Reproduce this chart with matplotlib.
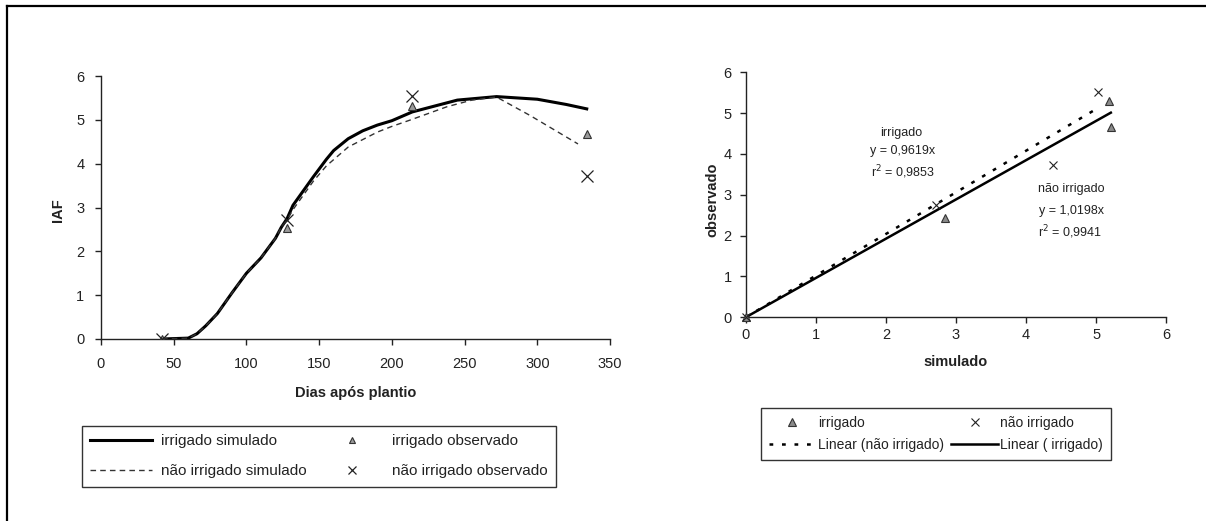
import matplotlib
matplotlib.use("Agg")
import matplotlib.pyplot as plt
from matplotlib.lines import Line2D
import numpy as np

plt.rcParams['font.family'] = ['Liberation Sans', 'DejaVu Sans']

# ---------------- data: left chart (IAF x dias) ----------------
dias_irr_sim = [42, 60, 66, 72, 80, 90, 100, 110, 120, 124, 128, 132, 146, 155, 160,
                170, 180, 190, 200, 214, 245, 272, 300, 320, 334]
iaf_irr_sim = [0.0, 0.02, 0.12, 0.3, 0.58, 1.05, 1.5, 1.85, 2.3, 2.55, 2.75, 3.05,
               3.7, 4.1, 4.3, 4.57, 4.75, 4.88, 4.98, 5.18, 5.45, 5.53, 5.47, 5.35, 5.25]

dias_nao_sim = [42, 60, 66, 72, 80, 90, 100, 110, 120, 124, 128, 132, 146, 155, 162,
                170, 180, 190, 200, 213, 238, 255, 272, 295, 328]
iaf_nao_sim = [0.0, 0.02, 0.12, 0.3, 0.58, 1.05, 1.5, 1.85, 2.3, 2.55, 2.72, 2.95,
               3.6, 3.95, 4.15, 4.38, 4.55, 4.72, 4.85, 5.0, 5.3, 5.45, 5.52, 5.1, 4.45]

dias_obs = [42, 128, 214, 334]
iaf_irr_obs = [0.0, 2.53, 5.32, 4.68]
iaf_nao_obs = [0.0, 2.72, 5.55, 3.72]

xticks_left = [0, 50, 100, 150, 200, 250, 300, 350]
yticks_left = [0, 1, 2, 3, 4, 5, 6]

# ---------------- data: right chart (observado x simulado) ----------------
irr_simulado = [0.0, 2.84, 5.19, 5.21]
irr_observado = [0.0, 2.42, 5.30, 4.67]
nao_simulado = [0.0, 2.72, 5.02, 4.39]
nao_observado = [0.0, 2.75, 5.52, 3.73]

slope_irr = 0.9619
slope_nao = 1.0198
r2_irr = "0,9853"
r2_nao = "0,9941"
trend_x_irr = [0.0, 5.21]
trend_x_nao = [0.0, 5.0]

xticks_right = [0, 1, 2, 3, 4, 5, 6]
yticks_right = [0, 1, 2, 3, 4, 5, 6]

# ---------------- figure ----------------
W, H = 1206, 521
fig = plt.figure(figsize=(W / 100, H / 100), dpi=100)
fig.patch.set_facecolor('white')

# outer frame (top and left edges visible)
fig.add_artist(Line2D([7 / W, 7 / W], [0, 1 - 6 / H], transform=fig.transFigure,
                      color='black', lw=1.6))
fig.add_artist(Line2D([7 / W, 1], [1 - 6 / H, 1 - 6 / H], transform=fig.transFigure,
                      color='black', lw=1.6))


def style_axes(ax):
    for s in ['top', 'right']:
        ax.spines[s].set_visible(False)
    for s in ['left', 'bottom']:
        ax.spines[s].set_color('#222222')
        ax.spines[s].set_linewidth(1.0)
    ax.tick_params(direction='out', length=4, width=1.0, color='#222222',
                   labelsize=10.5, labelcolor='#222222')


# ---------- left axes ----------
axL = fig.add_axes([101 / W, 1 - 339 / H, 509 / W, 263 / H])
style_axes(axL)
axL.plot(dias_irr_sim, iaf_irr_sim, color='black', lw=2.2, solid_joinstyle='round',
         label='irrigado simulado', zorder=3)
axL.plot(dias_nao_sim, iaf_nao_sim, color='#333333', lw=1.0, linestyle=(0, (4, 3)),
         label='não irrigado simulado', zorder=3)
axL.plot(dias_obs, iaf_irr_obs, linestyle='none', marker='^', markersize=6,
         markerfacecolor='#9a9a9a', markeredgecolor='#333333', markeredgewidth=0.8,
         label='irrigado observado', zorder=4)
axL.plot(dias_obs, iaf_nao_obs, linestyle='none', marker='x', markersize=9,
         markeredgecolor='#222222', markeredgewidth=0.9,
         label='não irrigado observado', zorder=4)
axL.set_xlim(0, 350)
axL.set_ylim(0, 6)
axL.set_xticks(xticks_left)
axL.set_yticks(yticks_left)
axL.tick_params(axis='x', pad=9)
axL.tick_params(axis='y', pad=8)
axL.set_xlabel('Dias após plantio', fontsize=10.5, fontweight='bold', color='#222222')
axL.xaxis.set_label_coords(0.5, -(393 - 339) / 263, transform=axL.transAxes)
axL.xaxis.label.set_verticalalignment('center')
axL.set_ylabel('IAF', fontsize=10.5, fontweight='bold', color='#222222')
axL.yaxis.set_label_coords((58 - 101) / 509, (339 - 210) / 263)
axL.yaxis.label.set_verticalalignment('center')

hL, lL = axL.get_legend_handles_labels()
legL = fig.legend(hL, lL, ncol=2,
                  loc='upper left', bbox_to_anchor=(82 / W, 1 - 426 / H),
                  bbox_transform=fig.transFigure, borderaxespad=0,
                  fontsize=11, frameon=True, fancybox=False, edgecolor='black',
                  handlelength=4.0, handletextpad=0.6, columnspacing=1.0,
                  labelspacing=1.05, borderpad=0.55, numpoints=1)
legL.get_frame().set_linewidth(1.0)
for t in legL.get_texts():
    t.set_color('#222222')
lh = legL.legend_handles
lh[2].set_markersize(5)
lh[3].set_markersize(6)

# ---------- right axes ----------
axR = fig.add_axes([745.7 / W, 1 - 317.3 / H, 420.5 / W, 245 / H])
style_axes(axR)
axR.plot(irr_simulado, irr_observado, linestyle='none', marker='^', markersize=6,
         markerfacecolor='#8a8a8a', markeredgecolor='#333333', markeredgewidth=0.8,
         label='irrigado', zorder=4, clip_on=False)
axR.plot(nao_simulado, nao_observado, linestyle='none', marker='x', markersize=6,
         markeredgecolor='#222222', markeredgewidth=0.8,
         label='não irrigado', zorder=4, clip_on=False)
tx_n = np.array(trend_x_nao)
tx_i = np.array(trend_x_irr)
axR.plot(tx_n, slope_nao * tx_n, color='black', lw=1.8, linestyle=(0, (1.5, 3.5)),
         label='Linear (não irrigado)', zorder=3)
axR.plot(tx_i, slope_irr * tx_i, color='black', lw=1.8,
         label='Linear ( irrigado)', zorder=3)
axR.set_xlim(0, 6)
axR.set_ylim(0, 6)
axR.set_xticks(xticks_right)
axR.set_yticks(yticks_right)
axR.tick_params(axis='x', pad=4)
axR.tick_params(axis='y', pad=6)
axR.set_xlabel('simulado', fontsize=10.5, fontweight='bold', color='#222222')
axR.xaxis.set_label_coords(0.5, -(362 - 317.3) / 245)
axR.xaxis.label.set_verticalalignment('center')
axR.set_ylabel('observado', fontsize=10.5, fontweight='bold', color='#222222')
axR.yaxis.set_label_coords((712 - 745.7) / 420.5, (317.3 - 200) / 245)
axR.yaxis.label.set_verticalalignment('center')

ann_kw = dict(fontsize=9, color='#222222', ha='center', va='center')
axR.text(2.22, 4.52, 'irrigado', **ann_kw)
axR.text(2.24, 4.08, 'y = 0,9619x', **ann_kw)
axR.text(2.24, 3.56, 'r$^2$ = ' + r2_irr, **ann_kw)
axR.text(4.65, 3.13, 'não irrigado', **ann_kw)
axR.text(4.65, 2.61, 'y = 1,0198x', **ann_kw)
axR.text(4.63, 2.08, 'r$^2$ = ' + r2_nao, **ann_kw)

hR, lR = axR.get_legend_handles_labels()
orderR = [0, 2, 1, 3]
legR = fig.legend([hR[i] for i in orderR], [lR[i] for i in orderR], ncol=2,
                  loc='upper left', bbox_to_anchor=(761 / W, 1 - 408 / H),
                  bbox_transform=fig.transFigure, borderaxespad=0,
                  fontsize=10, frameon=True, fancybox=False, edgecolor='black',
                  handlelength=3.4, handletextpad=0.15, columnspacing=0.5,
                  labelspacing=0.6, borderpad=0.55, numpoints=1)
legR.get_frame().set_linewidth(1.0)
for t in legR.get_texts():
    t.set_color('#222222')

fig.savefig('out.png', dpi=100, facecolor='white')
